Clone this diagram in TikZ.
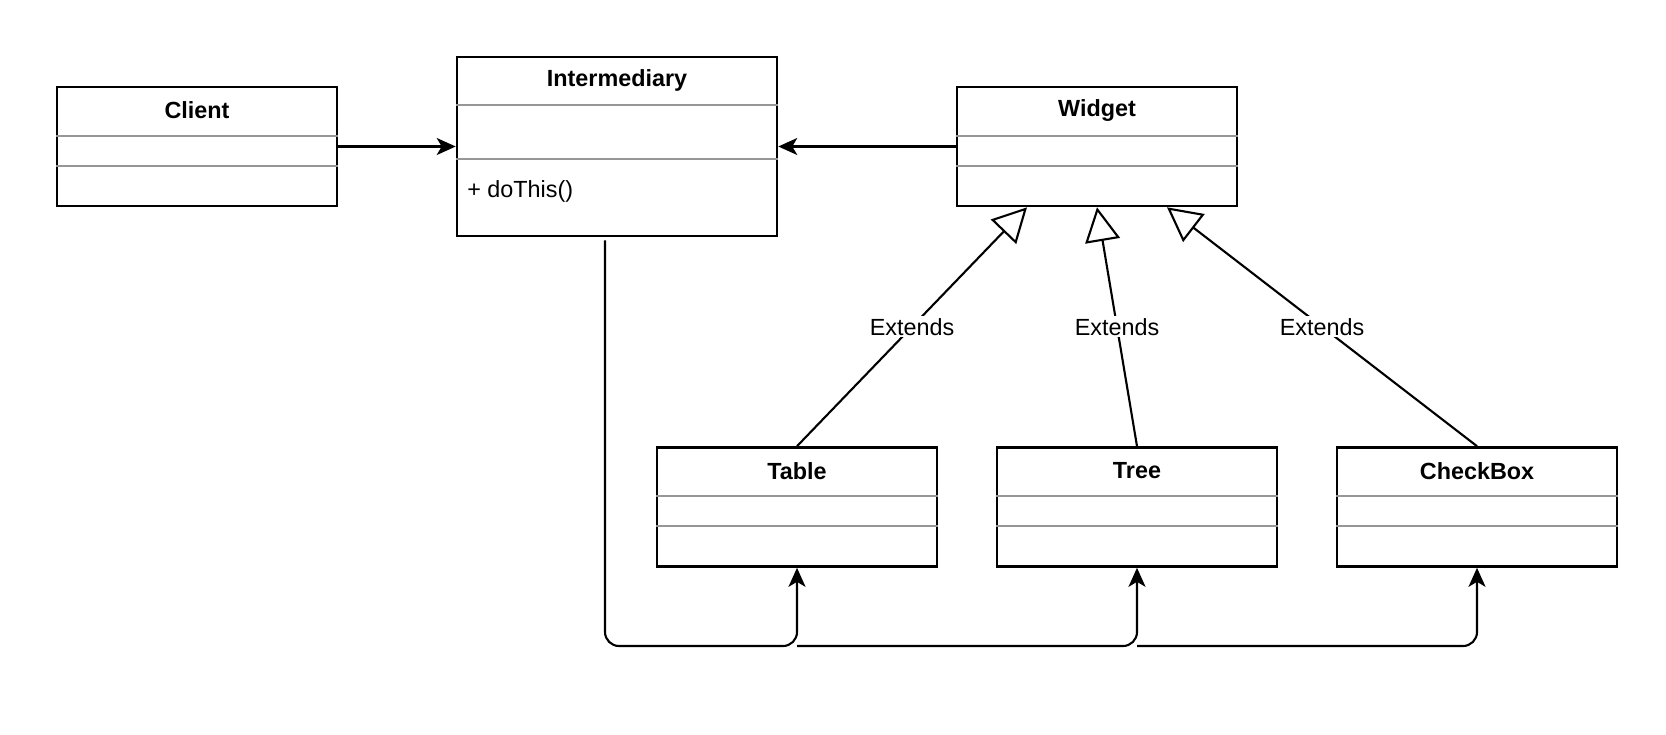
\documentclass[tikz,border=0pt]{standalone}
\usepackage{fontspec}
\setmainfont{Liberation Sans}
\usetikzlibrary{arrows.meta}
\definecolor{sepgray}{RGB}{150,150,150}
\newcommand{\umlsize}{\fontsize{13.3}{16}\selectfont}

\begin{document}
\begin{tikzpicture}[x=0.02cm, y=-0.02cm,
    classbox/.style={draw, line width=1.5pt, minimum width=5.6cm, minimum height=2.38cm, inner sep=0pt},
    classname/.style={font=\umlsize\bfseries},
    member/.style={font=\umlsize, anchor=west, inner sep=0pt},
    sepline/.style={sepgray, line width=1.1pt},
    assoc/.style={line width=1.2pt, -{Stealth[length=0.38cm, width=0.34cm, inset=0.1cm]}},
    extends/.style={line width=1.2pt, -{Triangle[open, length=0.68cm, width=0.7cm, fill=white]}},
    extlabel/.style={fill=white, font=\umlsize, inner sep=1pt},
    route/.style={line width=1.2pt, rounded corners=0.28cm}]
    \useasboundingbox (0,0) rectangle (1666,734);

    % Top row: Client, Intermediary, Widget
    \node[classbox] (client) at (197,146.5) {};
    \node[classname] (client-name) at ([yshift=-0.49cm]client.north) {Client};
    \draw[sepline] ([yshift=-1cm]client.north west) -- ([yshift=-1cm]client.north east);
    \draw[sepline] ([yshift=-1.6cm]client.north west) -- ([yshift=-1.6cm]client.north east);

    \node[classbox, minimum width=6.4cm, minimum height=3.58cm] (inter) at (617,146.5) {};
    \node[classname] (inter-name) at ([yshift=-0.49cm]inter.north) {Intermediary};
    \draw[sepline] ([yshift=-0.98cm]inter.north west) -- ([yshift=-0.98cm]inter.north east);
    \draw[sepline] ([yshift=-2.06cm]inter.north west) -- ([yshift=-2.06cm]inter.north east);
    \node[member] (inter-op) at (467,191) {+ doThis()};

    \node[classbox] (widget) at (1097,146.5) {};
    \node[classname] (widget-name) at ([yshift=-0.49cm]widget.north) {Widget};
    \draw[sepline] ([yshift=-1cm]widget.north west) -- ([yshift=-1cm]widget.north east);
    \draw[sepline] ([yshift=-1.6cm]widget.north west) -- ([yshift=-1.6cm]widget.north east);

    % Bottom row: the concrete widgets
    \node[classbox] (table) at (797,507) {};
    \node[classname] (table-name) at ([yshift=-0.49cm]table.north) {Table};
    \draw[sepline] ([yshift=-1cm]table.north west) -- ([yshift=-1cm]table.north east);
    \draw[sepline] ([yshift=-1.6cm]table.north west) -- ([yshift=-1.6cm]table.north east);

    \node[classbox] (tree) at (1137,507) {};
    \node[classname] (tree-name) at ([yshift=-0.49cm]tree.north) {Tree};
    \draw[sepline] ([yshift=-1cm]tree.north west) -- ([yshift=-1cm]tree.north east);
    \draw[sepline] ([yshift=-1.6cm]tree.north west) -- ([yshift=-1.6cm]tree.north east);

    \node[classbox] (checkbox) at (1477,507) {};
    \node[classname] (checkbox-name) at ([yshift=-0.49cm]checkbox.north) {CheckBox};
    \draw[sepline] ([yshift=-1cm]checkbox.north west) -- ([yshift=-1cm]checkbox.north east);
    \draw[sepline] ([yshift=-1.6cm]checkbox.north west) -- ([yshift=-1.6cm]checkbox.north east);

    % Associations into Intermediary
    \draw[assoc] (client.east) -- (inter.west);
    \draw[assoc] (widget.west) -- (inter.east);

    % Generalisation arrows
    \coordinate (wleft) at ([xshift=-1.4cm]widget.south);
    \coordinate (wmid) at (widget.south);
    \coordinate (wright) at ([xshift=1.4cm]widget.south);
    \draw[extends] (table.north) -- node[extlabel] (ext-table) {Extends} (wleft);
    \draw[extends] (tree.north) -- node[extlabel] (ext-tree) {Extends} (wmid);
    \draw[extends] (checkbox.north) -- node[extlabel] (ext-checkbox) {Extends} (wright);

    % Routed connectors from Intermediary to the widgets
    \coordinate (ibot) at ([xshift=-0.24cm]inter.south);
    \coordinate (rail) at (0,646);
    \draw[route, assoc, shorten <=0.06cm] (ibot) -- (ibot |- rail) -- (table.south |- rail) -- (table.south);
    \draw[route, assoc] (table.south |- rail) -- (tree.south |- rail) -- (tree.south);
    \draw[route, assoc] (tree.south |- rail) -- (checkbox.south |- rail) -- (checkbox.south);
\end{tikzpicture}
\end{document}
